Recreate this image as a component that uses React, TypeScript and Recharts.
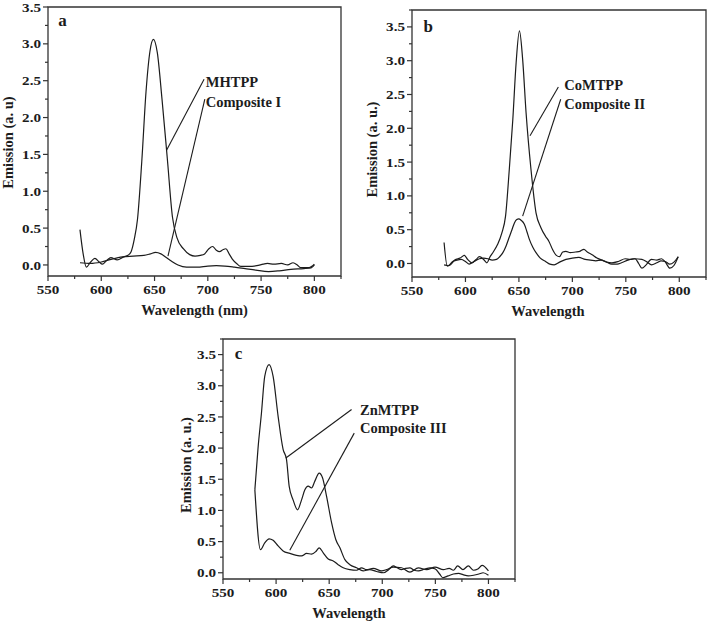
import React from "react";
import {
  LineChart,
  Line,
  XAxis,
  YAxis,
  ReferenceArea,
  ReferenceLine,
  ReferenceDot,
} from "recharts";

// panel a
const mhtppNm = [580, 583, 586, 590, 594, 598, 601, 605, 609, 615, 621, 625, 628, 631, 634, 638, 642, 645.7, 648.9, 652.6, 657, 662, 666.8, 671, 677, 683, 688, 693, 697, 701, 704.5, 708, 711, 714.5, 717, 720, 723, 727, 731, 738, 746, 752, 756, 762, 769, 775, 780, 784, 787, 795, 800];
const mhtppEm = [0.48, 0.15, -0.03, 0.04, 0.09, 0.04, 0.01, 0.06, 0.1, 0.07, 0.11, 0.13, 0.18, 0.35, 0.62, 1.4, 2.35, 2.9, 3.06, 2.88, 2.25, 1.44, 0.65, 0.37, 0.22, 0.14, 0.12, 0.13, 0.15, 0.22, 0.25, 0.2, 0.18, 0.21, 0.22, 0.15, 0.08, 0.02, -0.02, -0.02, -0.01, 0.01, 0.02, 0.01, 0.02, 0.0, 0.03, 0.0, -0.035, -0.035, 0.01];
const comp1Nm = [580, 590, 600, 610, 620, 630, 640, 646, 651, 656, 661, 666, 672, 680, 690, 700, 708, 716, 725, 735, 745, 757, 767, 778, 790, 797, 800];
const comp1Em = [0.03, 0.02, 0.04, 0.08, 0.11, 0.12, 0.13, 0.15, 0.17, 0.15, 0.1, 0.05, 0.0, -0.03, -0.03, -0.015, -0.01, -0.015, -0.03, -0.05, -0.07, -0.09, -0.08, -0.06, -0.05, -0.04, 0.0];

// panel b
const comtppNm = [580, 583, 586, 590, 595, 599, 602, 606, 610, 613, 617, 620, 623, 626, 630, 634, 637.5, 641, 644.3, 647.4, 650.5, 653.5, 656.7, 661.3, 666, 670.6, 675, 678, 681.4, 685, 688, 691, 694, 698, 703, 707, 710.8, 714, 718.5, 723, 727.7, 732, 737, 743, 749.4, 754, 758.7, 762, 765, 769, 774, 779, 783.4, 787, 791.2, 795, 799];
const comtppEm = [0.31, -0.04, -0.02, 0.05, 0.08, 0.12, 0.06, 0.01, 0.06, 0.1, 0.06, 0.01, 0.1, 0.17, 0.28, 0.45, 0.7, 1.39, 2.13, 2.97, 3.44, 3.02, 2.23, 1.39, 0.75, 0.53, 0.4, 0.33, 0.21, 0.12, 0.1, 0.17, 0.18, 0.16, 0.17, 0.18, 0.21, 0.17, 0.13, 0.08, 0.05, 0.02, 0.01, 0.03, 0.07, 0.06, 0.07, 0.0, -0.07, -0.02, 0.06, 0.05, 0.07, 0.02, -0.07, -0.03, 0.1];
const comp2Nm = [580, 584, 588, 592, 596, 600, 603.5, 608, 613, 617, 621, 625, 629, 632, 635, 638, 641.2, 643.5, 645.8, 648, 649.9, 652, 655.1, 657.5, 659.7, 663, 666, 670, 675, 679, 683, 688, 694, 700, 706, 712, 717, 722, 727, 731, 737, 742, 746, 752, 758, 765, 770, 774, 779, 783, 787, 791, 795, 799];
const comp2Em = [-0.02, -0.03, 0.03, 0.05, 0.06, 0.03, -0.01, 0.03, 0.07, 0.08, 0.07, 0.05, 0.06, 0.1, 0.16, 0.26, 0.4, 0.5, 0.6, 0.65, 0.66, 0.64, 0.58, 0.47, 0.36, 0.24, 0.16, 0.08, 0.03, -0.01, -0.02, 0.02, 0.06, 0.08, 0.09, 0.06, 0.05, 0.04, 0.05, 0.03, -0.01, -0.01, 0.01, 0.05, 0.07, 0.06, 0.02, -0.02, 0.01, 0.04, 0.03, -0.01, 0.02, 0.1];

// panel c
const znmtppNm = [580, 583, 586.2, 589.3, 593.4, 597.2, 601.9, 606.6, 609.8, 612.3, 616, 620.2, 624, 627.1, 630.2, 633.4, 636.5, 640.6, 643.8, 647.5, 652.3, 656.3, 660.1, 664.8, 669.5, 675.8, 682, 688, 694.7, 701, 706, 710.4, 714, 718, 722, 726, 730, 734, 740, 745, 750, 754, 757, 762, 767, 772, 776, 781, 786, 791, 795, 800];
const znmtppEm = [1.33, 2.0, 2.56, 3.15, 3.34, 3.15, 2.51, 1.98, 1.82, 1.39, 1.17, 1.01, 1.17, 1.33, 1.39, 1.36, 1.47, 1.6, 1.52, 1.23, 0.8, 0.53, 0.4, 0.21, 0.13, 0.08, 0.03, 0.05, 0.02, 0.0, 0.05, 0.11, 0.08, 0.05, 0.07, 0.08, 0.04, 0.03, 0.06, 0.08, 0.06, -0.02, -0.08, -0.05, -0.02, -0.01, -0.03, -0.05, -0.04, -0.02, 0.0, -0.04];
const comp3Nm = [580, 585.3, 589.3, 593.4, 597.2, 601.9, 606.6, 612.9, 619.2, 624, 628.7, 633.4, 637.4, 640.6, 644.4, 649.1, 653.8, 658.5, 663.2, 669.5, 675.8, 680.5, 685.2, 691.5, 699.4, 704.1, 710.4, 718.2, 726, 734, 741.8, 749.7, 757.5, 763, 767, 771, 776, 781, 786, 790, 794, 800];
const comp3Em = [1.33, 0.37, 0.48, 0.545, 0.52, 0.43, 0.35, 0.31, 0.28, 0.27, 0.31, 0.3, 0.34, 0.4, 0.32, 0.22, 0.19, 0.13, 0.08, 0.05, 0.04, 0.08, 0.05, 0.07, 0.03, 0.05, 0.09, 0.08, 0.01, 0.08, 0.05, 0.09, 0.05, 0.07, 0.04, 0.11, 0.05, 0.11, 0.04, 0.06, 0.12, 0.03];

// axes
const xTicks = [550, 575, 600, 625, 650, 675, 700, 725, 750, 775, 800, 825];
const yTicksA = [0, 0.25, 0.5, 0.75, 1, 1.25, 1.5, 1.75, 2, 2.25, 2.5, 2.75, 3, 3.25, 3.5];
const yTicksBC = [0, 0.25, 0.5, 0.75, 1, 1.25, 1.5, 1.75, 2, 2.25, 2.5, 2.75, 3, 3.25, 3.5, 3.75];

// annotations: [text x, text y, line start x, line start y, line end x, line end y]
const annoA1 = [698.1, 2.48, 696.5, 2.52, 661.4, 1.56];
const annoA2 = [698.1, 2.21, 697.2, 2.25, 662.6, 0.12];
const annoB1 = [692.4, 2.65, 686.9, 2.61, 660.4, 1.89];
const annoB2 = [692.4, 2.36, 689.1, 2.43, 653.5, 0.7];
const annoC1 = [679, 2.62, 671.1, 2.62, 609.2, 1.84];
const annoC2 = [679, 2.32, 673.6, 2.24, 612.9, 0.36];

const INK = "#1c1c1c";
const AXIS = "#333";

const pts = (nm: number[], em: number[]) => nm.map((x, i) => ({ x, y: em[i] }));

const XTick = (props: any) => {
  const { x, y, payload } = props;
  const v = payload.value;
  const major = v % 50 === 0 && v <= 800;
  return (
    <g>
      <line x1={x} y1={y} x2={x} y2={y + (major ? 5 : 3)} stroke={AXIS} strokeWidth={1.2} />
      {major && (
        <text transform={`translate(${x} ${y + 18}) scale(1.12 1)`} textAnchor="middle"
          fontSize={13.5} fontWeight="bold" fill={INK}>
          {v}
        </text>
      )}
    </g>
  );
};

const YTick = (props: any) => {
  const { x, y, payload } = props;
  const v = payload.value;
  const major = Math.abs(v * 2 - Math.round(v * 2)) < 1e-6;
  return (
    <g>
      <line x1={x} y1={y} x2={x - (major ? 5 : 3)} y2={y} stroke={AXIS} strokeWidth={1.2} />
      {major && (
        <text transform={`translate(${x - 7} ${y + 4.6}) scale(1.12 1)`} textAnchor="end"
          fontSize={13.5} fontWeight="bold" fill={INK}>
          {v.toFixed(1)}
        </text>
      )}
    </g>
  );
};

const xTitle = (text: string, dx: number) => (p: any) => {
  const { x, y, width } = p.viewBox;
  return (
    <text x={x + width / 2 + dx} y={y + 39} textAnchor="middle" fontSize={14.5} fontWeight="bold" fill={INK}>
      {text}
    </text>
  );
};

const yTitle = (text: string, dx: number, dy: number) => (p: any) => {
  const { x, y, width, height } = p.viewBox;
  const cx = x + width - dx;
  const cy = y + height / 2 + dy;
  return (
    <text x={cx} y={cy} transform={`rotate(-90 ${cx} ${cy})`} textAnchor="middle" dominantBaseline="central" fontSize={14.5} fontWeight="bold" fill={INK}>
      {text}
    </text>
  );
};

const Annotation = (a: number[], text: string) => [
  <ReferenceLine key={text + "l"} segment={[{ x: a[2], y: a[3] }, { x: a[4], y: a[5] }]} stroke={INK} strokeWidth={1.1} />,
  <ReferenceDot key={text + "t"} x={a[0]} y={a[1]} r={0} fill="none" stroke="none"
    label={{ value: text, position: "right", offset: 0, fontSize: 14.5, fontWeight: "bold", fill: INK }} />,
];

interface PanelProps {
  left: number; top: number; width: number; height: number;
  margin: { top: number; right: number; bottom: number; left: number };
  yWidth: number; xHeight: number;
  yDomain: [number, number]; yTicks: number[];
  series: { x: number; y: number }[][];
  letter: string; letterPos: number[];
  annos: [number[], string][];
  xLabel: string; xLabelDx: number;
  yLabel: string; yLabelDx: number; yLabelDy: number;
}

function Panel(p: PanelProps) {
  return (
    <div style={{ position: "absolute", left: p.left, top: p.top }}>
      <LineChart width={p.width} height={p.height} margin={p.margin}>
        <XAxis dataKey="x" type="number" domain={[550, 825]} ticks={xTicks} interval={0}
          allowDataOverflow height={p.xHeight} axisLine={false} tickLine={false}
          tickSize={0} tickMargin={0} tick={<XTick />}
          label={{ content: xTitle(p.xLabel, p.xLabelDx) } as any} />
        <YAxis type="number" domain={p.yDomain} ticks={p.yTicks} interval={0}
          allowDataOverflow width={p.yWidth} axisLine={false} tickLine={false}
          tickSize={0} tickMargin={0} tick={<YTick />}
          label={{ content: yTitle(p.yLabel, p.yLabelDx, p.yLabelDy) } as any} />
        <ReferenceArea x1={550} x2={825} y1={p.yDomain[0]} y2={p.yDomain[1]}
          fill="none" stroke={AXIS} strokeWidth={1.3} />
        {p.series.map((d, i) => (
          <Line key={i} data={d} dataKey="y" type="monotone" dot={false}
            stroke={INK} strokeWidth={1.2} isAnimationActive={false} />
        ))}
        {p.annos.map(([a, t]) => Annotation(a, t))}
        <ReferenceDot x={p.letterPos[0]} y={p.letterPos[1]} r={0} fill="none" stroke="none"
          label={{ value: p.letter, position: "right", offset: 0, fontSize: 17, fontWeight: "bold", fill: INK }} />
      </LineChart>
    </div>
  );
}

export default function App() {
  return (
    <div style={{ position: "absolute", left: 0, top: 0, width: 709, height: 623, background: "#fff", fontFamily: "'Liberation Serif', 'Times New Roman', serif" }}>
      <Panel left={0} top={0} width={345} height={320}
        margin={{ top: 7, right: 4, bottom: 0, left: 0 }} yWidth={48} xHeight={44}
        yDomain={[-0.15, 3.5]} yTicks={yTicksA}
        series={[pts(mhtppNm, mhtppEm), pts(comp1Nm, comp1Em)]}
        letter="a" letterPos={[559.7, 3.32]}
        annos={[[annoA1, "MHTPP"], [annoA2, "Composite I"]]}
        xLabel="Wavelength (nm)" xLabelDx={0}
        yLabel="Emission (a. u)" yLabelDx={40} yLabelDy={1} />
      <Panel left={360} top={0} width={349} height={320}
        margin={{ top: 10, right: 3, bottom: 0, left: 0 }} yWidth={52} xHeight={43}
        yDomain={[-0.2, 3.75]} yTicks={yTicksBC}
        series={[pts(comtppNm, comtppEm), pts(comp2Nm, comp2Em)]}
        letter="b" letterPos={[560.8, 3.51]}
        annos={[[annoB1, "CoMTPP"], [annoB2, "Composite II"]]}
        xLabel="Wavelength" xLabelDx={-11}
        yLabel="Emission (a. u.)" yLabelDx={40} yLabelDy={6} />
      <Panel left={175} top={330} width={345} height={293}
        margin={{ top: 9, right: 5, bottom: 0, left: 0 }} yWidth={48} xHeight={44}
        yDomain={[-0.1, 3.75]} yTicks={yTicksBC}
        series={[pts(znmtppNm, znmtppEm), pts(comp3Nm, comp3Em)]}
        letter="c" letterPos={[561, 3.53]}
        annos={[[annoC1, "ZnMTPP"], [annoC2, "Composite III"]]}
        xLabel="Wavelength" xLabelDx={-20}
        yLabel="Emission (a. u.)" yLabelDx={37} yLabelDy={6} />
    </div>
  );
}
